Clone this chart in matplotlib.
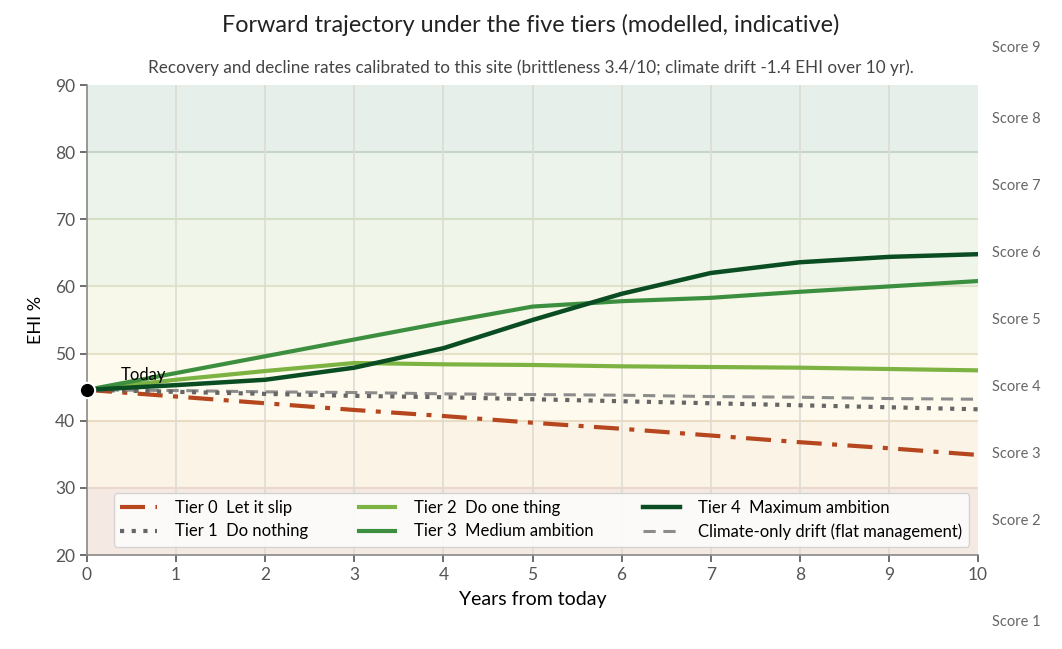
import numpy as np
import matplotlib.pyplot as plt
import matplotlib.transforms as mtransforms

plt.rcParams['font.family'] = ['Lato', 'DejaVu Sans']

# data
years = [0, 1, 2, 3, 4, 5, 6, 7, 8, 9, 10]
tier0 = [44.6, 43.6, 42.6, 41.6, 40.7, 39.7, 38.8, 37.8, 36.8, 35.9, 34.9]
tier1 = [44.6, 44.3, 44.0, 43.7, 43.5, 43.2, 42.9, 42.6, 42.3, 42.0, 41.7]
tier2 = [44.6, 46.1, 47.4, 48.6, 48.4, 48.3, 48.1, 48.0, 47.9, 47.7, 47.5]
tier3 = [44.6, 47.1, 49.6, 52.1, 54.6, 57.0, 57.8, 58.3, 59.2, 60.0, 60.8]
tier4 = [44.6, 45.3, 46.1, 47.9, 50.8, 55.0, 58.9, 62.0, 63.6, 64.4, 64.8]
climate = [44.6, 44.5, 44.3, 44.2, 44.0, 43.9, 43.8, 43.6, 43.5, 43.3, 43.2]
today_value = 44.6

labels = ['Tier 0  Let it slip', 'Tier 1  Do nothing', 'Tier 2  Do one thing',
          'Tier 3  Medium ambition', 'Tier 4  Maximum ambition',
          'Climate-only drift (flat management)']

band_edges = [20, 30, 40, 50, 60, 70, 80, 90]
band_fill = ['#f5e9e4', '#faf3e6', '#fefbee', '#f7f7ea', '#f0f5e9', '#ecf3ea', '#e6efe9']
band_line = ['#ead8cc', '#eadcc2', '#e6e2c8', '#dfe3c9', '#d3e0c6', '#c5d5c8', '#b9ccbf']
score_labels = ['Score 9', 'Score 8', 'Score 7', 'Score 6', 'Score 5',
                'Score 4', 'Score 3', 'Score 2', 'Score 1']
score_pos = [95.5, 85, 75, 65, 55, 45, 35, 25, 10]

fig = plt.figure(figsize=(10.62, 6.49), dpi=100)
ax = fig.add_axes([87/1062, 1 - 555/649, 891/1062, 470/649])

# background bands
for i in range(len(band_fill)):
    ax.axhspan(band_edges[i], band_edges[i+1], color=band_fill[i], lw=0, zorder=0)
for i in range(1, len(band_edges) - 1):
    ax.axhline(band_edges[i], color=band_line[i - 1], lw=1.5, zorder=0.5)
for x in years[1:-1]:
    ax.axvline(x, color='#dcdcd4', lw=1.2, zorder=0.6)

ax.plot(years, tier0, color='#b5461e', lw=3, ls=(0, (6, 2.5, 1.2, 2.5)), label=labels[0], zorder=3)
ax.plot(years, tier1, color='#666666', lw=3, ls=(0, (1, 1.8)), label=labels[1], zorder=3)
ax.plot(years, tier2, color='#7cb342', lw=3, label=labels[2], zorder=3)
ax.plot(years, tier3, color='#3d8f40', lw=3, label=labels[3], zorder=3)
ax.plot(years, tier4, color='#0b4d23', lw=3.2, label=labels[4], zorder=3)
ax.plot(years, climate, color='#8c8c8c', lw=2.2, ls=(0, (4, 2.5)), label=labels[5], zorder=2.5)

ax.plot([0], [today_value], 'o', color='black', ms=11, mec='white', mew=1.5,
        clip_on=False, zorder=5)
ax.text(0.38, 46.8, 'Today', fontsize=12, va='center', ha='left', zorder=6)

ax.set_xlim(0, 10)
ax.set_ylim(20, 90)
ax.set_xticks(years)
ax.set_yticks(range(20, 91, 10))
ax.tick_params(colors='#555555', labelsize=12.5, length=5, width=1.2)
for s in ['top', 'right']:
    ax.spines[s].set_visible(False)
for s in ['left', 'bottom']:
    ax.spines[s].set_color('#888888')
    ax.spines[s].set_linewidth(1.2)

ax.set_xlabel('Years from today', fontsize=14, labelpad=6)
ax.set_ylabel('EHI %', fontsize=13, labelpad=8)

trans = mtransforms.blended_transform_factory(ax.transAxes, ax.transData)
for lab, pos in zip(score_labels, score_pos):
    ax.text(1.0157, pos, lab, transform=trans, fontsize=10.5, color='#666666',
            va='center', ha='left', clip_on=False)

leg = ax.legend(loc='lower center', ncol=3, fontsize=12, frameon=True,
                bbox_to_anchor=(0.51, 0.0), handlelength=2.2, columnspacing=3.0,
                borderaxespad=0.5, handletextpad=1.1, labelspacing=0.45)
leg.get_frame().set_edgecolor('#cccccc')
leg.get_frame().set_facecolor('white')

fig.text(0.5, 1 - 25/649, 'Forward trajectory under the five tiers (modelled, indicative)',
         ha='center', va='center', fontsize=16.8, color='#222222')
fig.text(0.5, 1 - 68/649,
         'Recovery and decline rates calibrated to this site (brittleness 3.4/10; climate drift -1.4 EHI over 10 yr).',
         ha='center', va='center', fontsize=12.3, color='#444444')

fig.savefig('out.png', dpi=100)
